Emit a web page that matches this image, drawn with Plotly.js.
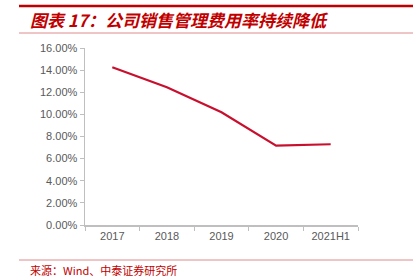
<!DOCTYPE html>
<html><head><meta charset="utf-8">
<script src="https://cdn.plot.ly/plotly-3.0.1.min.js"></script>
<style>html,body{margin:0;padding:0;background:#fff;}#c{width:415px;height:277px;}</style>
</head><body><div id="c"></div>
<script>
const categories = ['2017','2018','2019','2020','2021H1'];
const ratio = [0.1426, 0.1245, 0.1019, 0.0717, 0.0730];
const yTicks = [0,0.02,0.04,0.06,0.08,0.10,0.12,0.14,0.16];

const L=85,R=358,T=48,B=225,W=415,H=277;
const px = x => (x-L)/(R-L);
const py = y => (B-y)/(B-T);

Plotly.newPlot('c',[{
  x: categories, y: ratio, type:'scatter', mode:'lines',
  line:{color:'#c8102e', width:2.2}, hoverinfo:'none'
}],{
  width:W, height:H,
  margin:{l:L, r:W-R, t:T, b:H-B, pad:0},
  paper_bgcolor:'#fff', plot_bgcolor:'#fff',
  showlegend:false,
  font:{family:'Liberation Sans, Arial, sans-serif', color:'#595959', size:11},
  xaxis:{type:'category', range:[-0.5,4.5], showgrid:false, zeroline:false,
    showline:true, linecolor:'#bfbfbf', linewidth:1.5,
    ticks:'outside', tickson:'boundaries', ticklen:4, tickcolor:'#bfbfbf',
    tickfont:{size:11, color:'#595959'}},
  yaxis:{range:[0,0.16], tickvals:yTicks, tickformat:'.2%', showgrid:false, zeroline:false,
    showline:true, linecolor:'#bfbfbf', linewidth:1.5,
    ticks:'outside', ticklen:4, tickcolor:'#bfbfbf',
    tickfont:{size:11, color:'#595959'}},
  title:{text:'<b><i>图表 17：公司销售管理费用率持续降低</i></b>', xref:'container', yref:'container',
    x:30/W, y:1-21/H, xanchor:'left', yanchor:'middle',
    font:{family:'Noto Sans CJK SC, sans-serif', size:17, color:'#c00000'}},
  shapes:[
    {type:'line', xref:'paper', yref:'paper', x0:px(19), x1:px(413), y0:py(6), y1:py(6), line:{color:'#c00000', width:2.5}},
    {type:'line', xref:'paper', yref:'paper', x0:px(19), x1:px(413), y0:py(33), y1:py(33), line:{color:'#e08a8a', width:1}},
    {type:'line', xref:'paper', yref:'paper', x0:px(19), x1:px(413), y0:py(260), y1:py(260), line:{color:'#e08a8a', width:1}}
  ],
  annotations:[
    {text:'来源：Wind、中泰证券研究所', xref:'paper', yref:'paper', x:px(28), y:py(269.5),
     xanchor:'left', yanchor:'middle', showarrow:false,
     font:{family:'Noto Sans CJK SC, sans-serif', size:11, color:'#c00000'}}
  ]
},{staticPlot:true, displayModeBar:false});
</script></body></html>
